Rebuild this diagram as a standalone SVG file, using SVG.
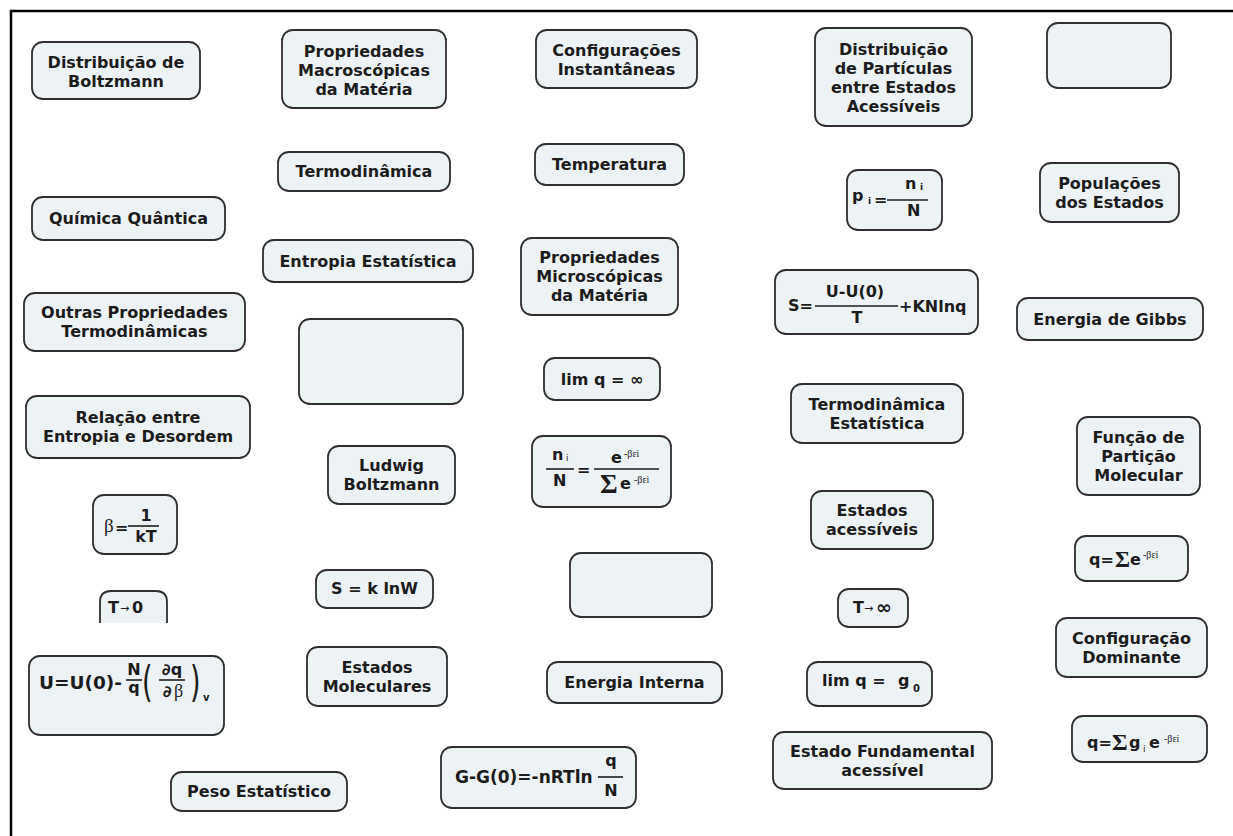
<svg xmlns="http://www.w3.org/2000/svg" width="1233" height="836" viewBox="0 0 1233 836">
  <style>
    .box{fill:#edf2f5;stroke:#2f2f2f;stroke-width:1.8}
    .t{font-family:"DejaVu Sans",Verdana,sans-serif;font-weight:bold;font-size:16px;fill:#1c1c1c;text-anchor:middle}
    .m{font-family:"DejaVu Sans",Verdana,sans-serif;font-weight:bold;font-size:16px;fill:#1c1c1c}
    .s{font-family:"Liberation Serif","DejaVu Serif",serif;font-weight:normal;fill:#1c1c1c}
    .sup{font-family:"Liberation Serif","DejaVu Serif",serif;font-weight:normal;font-size:10px;fill:#1c1c1c}
    .sig{font-family:"Liberation Serif","DejaVu Serif",serif;font-weight:bold;fill:#1c1c1c}
    .bar{stroke:#1c1c1c;stroke-width:1.6}
    .frame{stroke:#000;stroke-width:2.5;fill:none}
  </style>

  <rect width="1233" height="836" fill="#fff"/>
  <!-- page frame: top and left edges only -->
  <path class="frame" d="M11,836 V11 H1233"/>

  <g id="connectors"/>

  <g id="distribuicao-boltzmann">
    <rect class="box" x="32" y="42" width="168" height="57" rx="11"/>
    <text class="t" x="116" y="68">Distribuição de</text>
    <text class="t" x="116" y="87">Boltzmann</text>
  </g>
  <g id="propriedades-macro">
    <rect class="box" x="282" y="30" width="164" height="78" rx="11"/>
    <text class="t" x="364" y="57">Propriedades</text>
    <text class="t" x="364" y="76">Macroscópicas</text>
    <text class="t" x="364" y="95">da Matéria</text>
  </g>
  <g id="configuracoes-instantaneas">
    <rect class="box" x="536" y="30" width="161" height="58" rx="11"/>
    <text class="t" x="616.5" y="56">Configurações</text>
    <text class="t" x="616.5" y="75">Instantâneas</text>
  </g>
  <g id="distribuicao-particulas">
    <rect class="box" x="815" y="28" width="157" height="98" rx="11"/>
    <text class="t" x="893.5" y="55">Distribuição</text>
    <text class="t" x="893.5" y="74">de Partículas</text>
    <text class="t" x="893.5" y="93">entre Estados</text>
    <text class="t" x="893.5" y="112">Acessíveis</text>
  </g>
  <g id="vazio-1">
    <rect class="box" x="1047" y="23" width="124" height="65" rx="11"/>
  </g>
  <g id="termodinamica">
    <rect class="box" x="278" y="152" width="172" height="39" rx="11"/>
    <text class="t" x="364" y="177">Termodinâmica</text>
  </g>
  <g id="temperatura">
    <rect class="box" x="535" y="144" width="149" height="41" rx="11"/>
    <text class="t" x="609.5" y="170">Temperatura</text>
  </g>
  <g id="probabilidade">
    <rect class="box" x="847" y="170" width="95" height="60" rx="11"/>
    <text class="m" x="852" y="201">p</text>
    <text class="m" x="868" y="204" style="font-size:9px">i</text>
    <text class="m" x="874" y="205">=</text>
    <line class="bar" x1="887" y1="200" x2="928" y2="200"/>
    <text class="m" x="905" y="189">n</text>
    <text class="m" x="920" y="190" style="font-size:9px">i</text>
    <text class="m" x="907" y="216">N</text>
  </g>
  <g id="populacoes">
    <rect class="box" x="1040" y="163" width="139" height="59" rx="11"/>
    <text class="t" x="1109.5" y="189">Populações</text>
    <text class="t" x="1109.5" y="208">dos Estados</text>
  </g>
  <g id="quimica-quantica">
    <rect class="box" x="32" y="197" width="193" height="43" rx="11"/>
    <text class="t" x="128.5" y="224">Química Quântica</text>
  </g>
  <g id="entropia-estatistica">
    <rect class="box" x="263" y="240" width="210" height="42" rx="11"/>
    <text class="t" x="368" y="267">Entropia Estatística</text>
  </g>
  <g id="propriedades-micro">
    <rect class="box" x="521" y="238" width="157" height="77" rx="11"/>
    <text class="t" x="599.5" y="263">Propriedades</text>
    <text class="t" x="599.5" y="282">Microscópicas</text>
    <text class="t" x="599.5" y="301">da Matéria</text>
  </g>
  <g id="entropia-formula">
    <rect class="box" x="775" y="270" width="203" height="64" rx="11"/>
    <text class="m" x="788" y="311">S=</text>
    <text class="t" x="855" y="297">U-U(0)</text>
    <line class="bar" x1="815" y1="306" x2="898" y2="306"/>
    <text class="t" x="857" y="323">T</text>
    <text class="m" x="899" y="312">+KNlnq</text>
  </g>
  <g id="outras-propriedades">
    <rect class="box" x="24" y="293" width="221" height="58" rx="11"/>
    <text class="t" x="134.5" y="318">Outras Propriedades</text>
    <text class="t" x="134.5" y="337">Termodinâmicas</text>
  </g>
  <g id="energia-gibbs">
    <rect class="box" x="1017" y="298" width="186" height="42" rx="11"/>
    <text class="t" x="1110" y="325">Energia de Gibbs</text>
  </g>
  <g id="vazio-2">
    <rect class="box" x="299" y="319" width="164" height="85" rx="11"/>
  </g>
  <g id="limite-infinito">
    <rect class="box" x="544" y="358" width="116" height="42" rx="11"/>
    <text class="t" x="602" y="385">lim q = ∞</text>
  </g>
  <g id="termodinamica-estatistica">
    <rect class="box" x="791" y="384" width="172" height="59" rx="11"/>
    <text class="t" x="877" y="410">Termodinâmica</text>
    <text class="t" x="877" y="429">Estatística</text>
  </g>
  <g id="relacao-entropia">
    <rect class="box" x="26" y="396" width="224" height="62" rx="11"/>
    <text class="t" x="138" y="423">Relação entre</text>
    <text class="t" x="138" y="442">Entropia e Desordem</text>
  </g>
  <g id="funcao-particao">
    <rect class="box" x="1077" y="417" width="123" height="78" rx="11"/>
    <text class="t" x="1138.5" y="443">Função de</text>
    <text class="t" x="1138.5" y="462">Partição</text>
    <text class="t" x="1138.5" y="481">Molecular</text>
  </g>
  <g id="populacao-formula">
    <rect class="box" x="532" y="436" width="139" height="71" rx="11"/>
    <text class="m" x="552" y="460">n</text>
    <text class="m" x="566" y="461" style="font-size:9px;font-weight:normal">i</text>
    <line class="bar" x1="546" y1="469" x2="574" y2="469"/>
    <text class="m" x="553" y="486">N</text>
    <text class="m" x="577" y="475">=</text>
    <line class="bar" x1="594" y1="469" x2="659" y2="469"/>
    <text class="m" x="611" y="463">e</text>
    <text class="sup" x="624" y="457">-βεi</text>
    <text class="sig" x="600" y="493" style="font-size:27px">Σ</text>
    <text class="m" x="620" y="489">e</text>
    <text class="sup" x="634" y="483">-βεi</text>
  </g>
  <g id="ludwig-boltzmann">
    <rect class="box" x="328" y="446" width="127" height="58" rx="11"/>
    <text class="t" x="391.5" y="471">Ludwig</text>
    <text class="t" x="391.5" y="490">Boltzmann</text>
  </g>
  <g id="estados-acessiveis">
    <rect class="box" x="811" y="491" width="122" height="58" rx="11"/>
    <text class="t" x="872" y="516">Estados</text>
    <text class="t" x="872" y="535">acessíveis</text>
  </g>
  <g id="beta">
    <rect class="box" x="93" y="495" width="84" height="59" rx="11"/>
    <text class="s" x="104" y="532" style="font-size:19px">β</text>
    <text class="m" x="115" y="533">=</text>
    <line class="bar" x1="128" y1="526" x2="159" y2="526"/>
    <text class="t" x="146" y="521">1</text>
    <text class="t" x="146" y="542">kT</text>
  </g>
  <g id="particao-soma">
    <rect class="box" x="1075" y="536" width="113" height="45" rx="11"/>
    <text class="m" x="1089" y="565">q=</text>
    <text class="sig" x="1115" y="567" style="font-size:23px">Σ</text>
    <text class="m" x="1130" y="565">e</text>
    <text class="sup" x="1143" y="558">-βεi</text>
  </g>
  <g id="vazio-3">
    <rect class="box" x="570" y="553" width="142" height="64" rx="11"/>
  </g>
  <g id="entropia-boltzmann">
    <rect class="box" x="316" y="570" width="117" height="38" rx="11"/>
    <text class="t" x="374.5" y="594">S = k lnW</text>
  </g>
  <g id="t-zero">
    <path class="box" d="M100,623 V602 Q100,591 111,591 H156 Q167,591 167,602 V623"/>
    <text class="m" x="108" y="613">T</text>
    <text class="m" x="120" y="612" style="font-size:11px;font-weight:normal">→</text>
    <text class="m" x="132" y="613">0</text>
  </g>
  <g id="t-infinito">
    <rect class="box" x="838" y="589" width="70" height="38" rx="11"/>
    <text class="m" x="853" y="613">T</text>
    <text class="m" x="864" y="612" style="font-size:11px;font-weight:normal">→</text>
    <text class="m" x="876" y="614" style="font-size:19px">∞</text>
  </g>
  <g id="configuracao-dominante">
    <rect class="box" x="1056" y="618" width="151" height="59" rx="11"/>
    <text class="t" x="1131.5" y="644">Configuração</text>
    <text class="t" x="1131.5" y="663">Dominante</text>
  </g>
  <g id="estados-moleculares">
    <rect class="box" x="307" y="647" width="140" height="59" rx="11"/>
    <text class="t" x="377" y="673">Estados</text>
    <text class="t" x="377" y="692">Moleculares</text>
  </g>
  <g id="energia-interna-formula">
    <rect class="box" x="29" y="656" width="195" height="79" rx="11"/>
    <text class="m" x="39" y="689" style="font-size:18.5px">U=U(0)-</text>
    <text class="t" x="134" y="675">N</text>
    <line class="bar" x1="126" y1="680" x2="142" y2="680"/>
    <text class="t" x="134" y="693">q</text>
    <text class="m" transform="translate(142,697) scale(1,1.55)" style="font-size:27px;font-weight:normal">(</text>
    <text class="m" x="162" y="675">∂q</text>
    <line class="bar" x1="159" y1="680" x2="185" y2="680"/>
    <text class="m" x="163" y="697">∂</text>
    <text class="s" x="174" y="697" style="font-size:18px">β</text>
    <text class="m" transform="translate(190,697) scale(1,1.55)" style="font-size:27px;font-weight:normal">)</text>
    <text class="m" x="203" y="701" style="font-size:10px">v</text>
  </g>
  <g id="energia-interna">
    <rect class="box" x="547" y="662" width="175" height="41" rx="11"/>
    <text class="t" x="634.5" y="688">Energia Interna</text>
  </g>
  <g id="limite-g0">
    <rect class="box" x="807" y="662" width="125" height="44" rx="11"/>
    <text class="m" x="822" y="686" xml:space="preserve">lim q = </text>
    <text class="m" x="898" y="686">g</text>
    <text class="m" x="913" y="692" style="font-size:10px">0</text>
  </g>
  <g id="particao-degenerada">
    <rect class="box" x="1072" y="716" width="135" height="46" rx="11"/>
    <text class="m" x="1087" y="748">q=</text>
    <text class="sig" x="1112" y="750" style="font-size:24px">Σ</text>
    <text class="m" x="1129" y="748">g</text>
    <text class="m" x="1143" y="752" style="font-size:9px;font-weight:normal">i</text>
    <text class="m" x="1149" y="748">e</text>
    <text class="sup" x="1164" y="742">-βεi</text>
  </g>
  <g id="estado-fundamental">
    <rect class="box" x="773" y="732" width="219" height="57" rx="11"/>
    <text class="t" x="882.5" y="757">Estado Fundamental</text>
    <text class="t" x="882.5" y="776">acessível</text>
  </g>
  <g id="gibbs-formula">
    <rect class="box" x="441" y="747" width="195" height="61" rx="11"/>
    <text class="m" x="455" y="783" style="font-size:17px">G-G(0)=-nRTln</text>
    <text class="t" x="611" y="766">q</text>
    <line class="bar" x1="598" y1="777" x2="623" y2="777"/>
    <text class="t" x="611" y="796">N</text>
  </g>
  <g id="peso-estatistico">
    <rect class="box" x="171" y="772" width="176" height="39" rx="11"/>
    <text class="t" x="259" y="797">Peso Estatístico</text>
  </g>
</svg>
